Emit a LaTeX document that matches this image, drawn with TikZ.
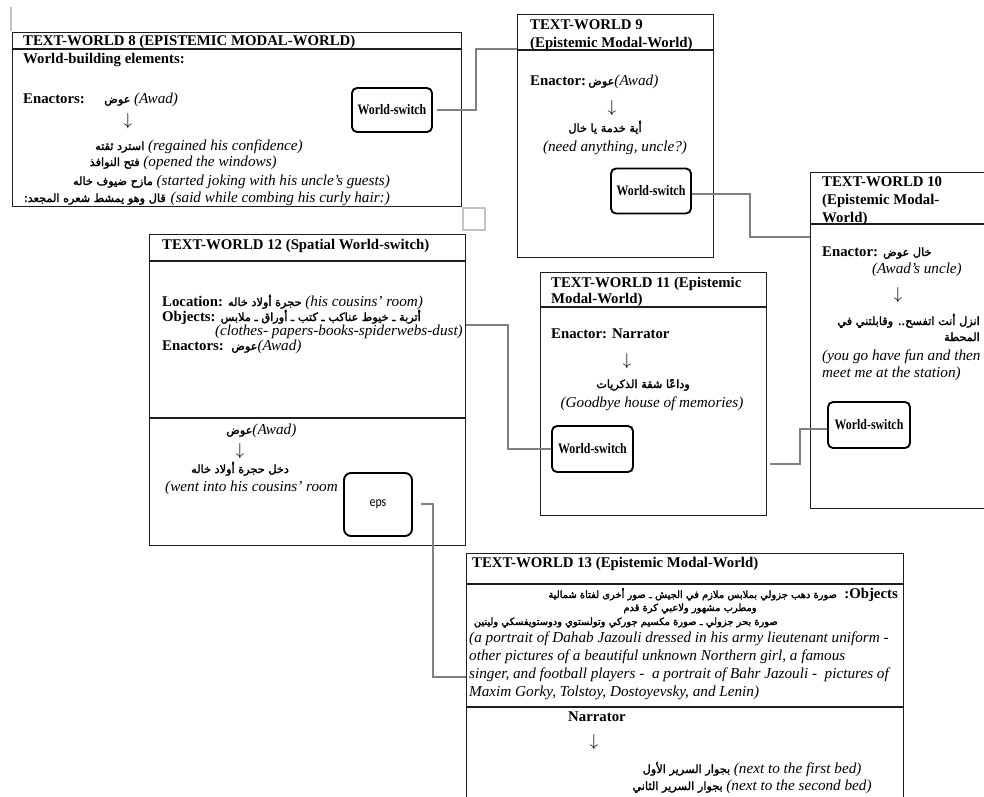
\documentclass[tikz,border=0pt]{standalone}
\usepackage{fontspec}
\usepackage{graphicx}
\setmainfont{Liberation Serif}
\newfontfamily\arfont[Script=Arabic,FakeBold=2]{DejaVu Sans}
\newfontfamily\epsfont{Carlito}
\TeXXeTstate=1
\newcommand{\AR}[1]{{\arfont\mdseries\upshape\fontsize{11.3}{12}\selectfont\beginR #1\endR}}
\newcommand{\ARs}[1]{{\arfont\mdseries\upshape\fontsize{9.9}{11}\selectfont\beginR #1\endR}}
\newcommand{\IT}[1]{{\fontsize{15.2}{17}\selectfont\itshape #1}}
\newcommand{\DA}{{\fontsize{17}{17}\selectfont$\downarrow$}}
\definecolor{connc}{RGB}{128,128,128}
\definecolor{lightc}{RGB}{195,195,195}
\definecolor{boxc}{RGB}{30,30,30}
\begin{document}
\begin{tikzpicture}[x=1pt,y=-1pt,
  every node/.style={font=\fontsize{14.8}{17}\selectfont, inner sep=0pt},
  twbox/.style={draw=boxc, line width=1.3pt, anchor=north west},
  twline/.style={draw=boxc, line width=1.3pt},
  wsbox/.style={draw=black, line width=1.9pt, rounded corners=5pt, font=\fontsize{14.5}{16}\selectfont\bfseries},
  conn/.style={draw=connc, line width=1.3pt},
  lb/.style={anchor=base west},
  rb/.style={anchor=base east},
  cb/.style={anchor=base},
  ttl/.style={anchor=base west, font=\fontsize{14.8}{17}\selectfont\bfseries},
]
\useasboundingbox (0,0) rectangle (984,796);
\clip (0,0) rectangle (984,796);

% ---------- boxes ----------
\node[twbox, minimum width=449pt, minimum height=174pt] (tw8) at (12,32) {};
\node[twbox, minimum width=196pt, minimum height=243pt] (tw9) at (517,14) {};
\node[twbox, minimum width=180pt, minimum height=336pt] (tw10) at (810,172) {};
\node[twbox, minimum width=226pt, minimum height=243pt] (tw11) at (540,272) {};
\node[twbox, minimum width=316pt, minimum height=311pt] (tw12) at (149,234) {};
\node[twbox, minimum width=437pt, minimum height=250pt] (tw13) at (466,553) {};

\draw[twline] (tw8.west |- 0,49) -- (tw8.east |- 0,49);
\draw[twline] (tw9.west |- 0,50) -- (tw9.east |- 0,50);
\draw[twline] (tw10.west |- 0,224) -- (tw10.east |- 0,224);
\draw[twline] (tw11.west |- 0,307) -- (tw11.east |- 0,307);
\draw[twline] (tw12.west |- 0,261) -- (tw12.east |- 0,261);
\draw[twline] (tw12.west |- 0,418) -- (tw12.east |- 0,418);
\draw[twline] (tw13.west |- 0,584) -- (tw13.east |- 0,584);
\draw[twline] (tw13.west |- 0,707) -- (tw13.east |- 0,707);

% ---------- decorative grey marks ----------
\draw[draw=lightc, line width=2pt] (11,7) -- (11,31);
\node[draw=lightc, line width=1.6pt, minimum width=22pt, minimum height=22pt, anchor=north west] (sq) at (462,207) {};

% ---------- world-switch boxes ----------
\node[wsbox, minimum width=80pt, minimum height=44pt] (ws8) at (392,110) {\scalebox{0.82}[1]{World-switch}};
\node[wsbox, minimum width=80pt, minimum height=45pt] (ws9) at (651,191) {\scalebox{0.82}[1]{World-switch}};
\node[wsbox, minimum width=82pt, minimum height=46pt] (ws10) at (869,425) {\scalebox{0.82}[1]{World-switch}};
\node[wsbox, minimum width=81pt, minimum height=46pt] (ws11) at (592.5,449) {\scalebox{0.82}[1]{World-switch}};
\node[draw=black, line width=1.9pt, rounded corners=7pt, minimum width=68pt, minimum height=63pt, font=\epsfont\fontsize{14}{16}\selectfont] (eps) at (378,504.5) {\scalebox{0.85}[1]{eps}};

% ---------- connectors ----------
\coordinate (c1a) at (476,110);
\coordinate (c1b) at (476,49);
\draw[conn] ([xshift=4pt]ws8.east) -- (c1a) -- (c1b) -- (tw9.west |- c1b);
\coordinate (c2a) at (750,194);
\coordinate (c2b) at (750,237);
\draw[conn] (ws9.east |- c2a) -- (c2a) -- (c2b) -- (tw10.west |- c2b);
\coordinate (c3a) at (800,429);
\coordinate (c3b) at (800,464);
\coordinate (c3end) at (770,464);
\draw[conn] (ws10.west |- c3a) -- (c3a) -- (c3b) -- (c3end);
\coordinate (c4a) at (508,449);
\coordinate (c4b) at (508,325);
\draw[conn] (ws11.west |- c4a) -- (c4a) -- (c4b) -- (tw12.east |- c4b);
\coordinate (c5a) at (433,504);
\coordinate (c5b) at (433,677);
\draw[conn] ([xshift=8pt]eps.east |- c5a) -- (c5a) -- (c5b) -- (tw13.west |- c5b);

% ---------- TEXT-WORLD 8 ----------
\node[ttl] (t8a) at (23,45) {TEXT-WORLD 8 (EPISTEMIC MODAL-WORLD)};
\node[ttl] (t8b) at (23,63) {World-building elements:};
\node[ttl] (t8c) at (23,103) {Enactors:};
\node[lb] (t8d) at (104,103) {\AR{عوض} \IT{(Awad)}};
\node (t8arr) at (128,121) {\DA};
\node[rb] (t8e) at (303,150) {\AR{استرد ثقته} \IT{(regained his confidence)}};
\node[rb] (t8f) at (277,166) {\AR{فتح النوافذ} \IT{(opened the windows)}};
\node[rb] (t8g) at (390,185) {\AR{مازح ضيوف خاله} \IT{(started joking with his uncle’s guests)}};
\node[rb] (t8h) at (390,202) {\AR{قال وهو يمشط شعره المجعد:} \IT{(said while combing his curly hair:)}};

% ---------- TEXT-WORLD 9 ----------
\node[ttl] (t9a) at (530,29) {TEXT-WORLD 9};
\node[ttl] (t9b) at (530,47) {(Epistemic Modal-World)};
\node[ttl] (t9c) at (530,85) {Enactor:};
\node[lb] (t9d) at (588,85) {\AR{عوض}\IT{(Awad)}};
\node (t9arr) at (612,108) {\DA};
\node[cb] (t9e) at (605,132) {\AR{أية خدمة يا خال}};
\node[cb] (t9f) at (615,151) {\IT{(need anything, uncle?)}};

% ---------- TEXT-WORLD 10 ----------
\node[ttl] (t10a) at (822,186) {TEXT-WORLD 10};
\node[ttl] (t10b) at (822,204) {(Epistemic Modal-};
\node[ttl] (t10c) at (822,222) {World)};
\node[ttl] (t10d) at (822,256) {Enactor: \AR{خال عوض}};
\node[rb] (t10e) at (962,273) {\IT{(Awad’s uncle)}};
\node (t10arr) at (898,295) {\DA};
\node[rb] (t10f) at (980,325) {\AR{انزل أنت اتفسح.. وقابلتني في}};
\node[rb] (t10g) at (980,341) {\AR{المحطة}};
\node[lb] (t10h) at (822,360) {\IT{(you go have fun and then}};
\node[lb] (t10i) at (822,377) {\IT{meet me at the station)}};

% ---------- TEXT-WORLD 11 ----------
\node[ttl] (t11a) at (551,287) {TEXT-WORLD 11 (Epistemic};
\node[ttl] (t11b) at (551,303) {Modal-World)};
\node[ttl] (t11c) at (551,338) {Enactor: Narrator};
\node (t11arr) at (627,361) {\DA};
\node[cb] (t11d) at (643,388) {\AR{وداعًا شقة الذكريات}};
\node[cb] (t11e) at (652,407) {\IT{(Goodbye house of memories)}};

% ---------- TEXT-WORLD 12 ----------
\node[ttl] (t12a) at (162,249) {TEXT-WORLD 12 (Spatial World-switch)};
\node[lb] (t12b) at (162,306) {\textbf{Location:} \AR{حجرة أولاد خاله} \IT{(his cousins’ room)}};
\node[lb] (t12c) at (162,321) {\textbf{Objects:} \AR{أتربة ـ خيوط عناكب ـ كتب ـ أوراق ـ ملابس}};
\node[rb] (t12d) at (463,335) {\IT{(clothes- papers-books-spiderwebs-dust)}};
\node[lb] (t12e) at (162,350) {\textbf{Enactors:}\ \ \AR{عوض}\IT{(Awad)}};
\node[lb] (t12f) at (226,434) {\AR{عوض}\IT{(Awad)}};
\node (t12arr) at (240,451) {\DA};
\node[cb] (t12g) at (240,473) {\AR{دخل حجرة أولاد خاله}};
\node[lb] (t12h) at (165,491) {\IT{(went into his cousins’ room}};

% ---------- TEXT-WORLD 13 ----------
\node[ttl] (t13a) at (472,567) {TEXT-WORLD 13 (Epistemic Modal-World)};
\node[rb] (t13b) at (898,598) {\ARs{صورة دهب جزولي بملابس ملازم في الجيش ـ صور أخرى لفتاة شمالية}\ \ \textbf{:Objects}};
\node[cb] (t13c) at (690,611) {\ARs{ومطرب مشهور ولاعبي كرة قدم}};
\node[rb] (t13d) at (778,625) {\ARs{صورة بحر جزولي ـ صورة مكسيم جوركي وتولستوي ودوستويفسكي ولينين}};
\node[lb] (t13e) at (469,642) {\IT{(a portrait of Dahab Jazouli dressed in his army lieutenant uniform -}};
\node[lb] (t13f) at (469,660) {\IT{other pictures of a beautiful unknown Northern girl, a famous}};
\node[lb] (t13g) at (469,678) {\IT{singer, and football players -\ \ a portrait of Bahr Jazouli -\ \ pictures of}};
\node[lb] (t13h) at (469,696) {\IT{Maxim Gorky, Tolstoy, Dostoyevsky, and Lenin)}};
\node[ttl] (t13i) at (568,721) {Narrator};
\node (t13arr) at (594,742) {\DA};
\node[cb] (t13j) at (752,773) {\AR{بجوار السرير الأول} \IT{(next to the first bed)}};
\node[cb] (t13k) at (752,790) {\AR{بجوار السرير الثاني} \IT{(next to the second bed)}};
\end{tikzpicture}
\end{document}
